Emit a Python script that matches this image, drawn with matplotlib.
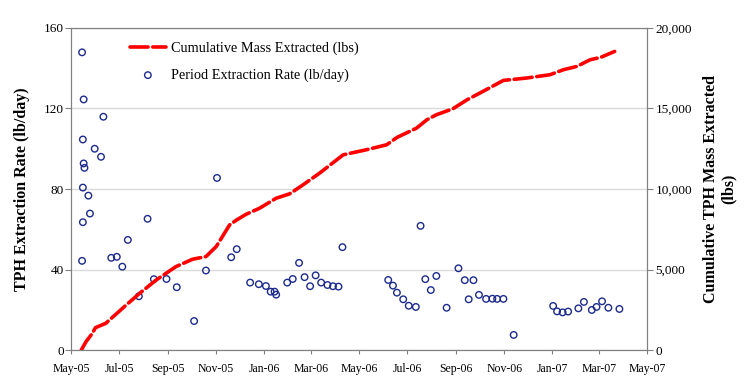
import matplotlib
matplotlib.use('Agg')
import matplotlib.pyplot as plt
import matplotlib.dates as mdates
import numpy as np
import pandas as pd

plt.rcParams['font.family'] = ['Liberation Serif', 'DejaVu Serif']

# period extraction rate (lb/day)
rate_dates = ['2005-05-15', '2005-05-17', '2005-05-16', '2005-05-17', '2005-05-18',
              '2005-05-16', '2005-05-23', '2005-05-25', '2005-05-16', '2005-05-15',
              '2005-05-31', '2005-06-08', '2005-06-11', '2005-06-21', '2005-06-28',
              '2005-07-05', '2005-07-12', '2005-07-26', '2005-08-06', '2005-08-14',
              '2005-08-30', '2005-09-12', '2005-10-04', '2005-10-19', '2005-11-02',
              '2005-11-20', '2005-11-27', '2005-12-14', '2005-12-25', '2006-01-03',
              '2006-01-09', '2006-01-14', '2006-01-16', '2006-01-30', '2006-02-06',
              '2006-02-14', '2006-02-21', '2006-02-28', '2006-03-07', '2006-03-14',
              '2006-03-22', '2006-03-29', '2006-04-05', '2006-04-10', '2006-06-07',
              '2006-06-13', '2006-06-18', '2006-06-26', '2006-07-03', '2006-07-12',
              '2006-07-18', '2006-07-24', '2006-07-31', '2006-08-07', '2006-08-20',
              '2006-09-04', '2006-09-12', '2006-09-17', '2006-09-23', '2006-09-30',
              '2006-10-09', '2006-10-17', '2006-10-23', '2006-10-31', '2006-11-13',
              '2007-01-02', '2007-01-07', '2007-01-14', '2007-01-21', '2007-02-03',
              '2007-02-10', '2007-02-20', '2007-02-26', '2007-03-05', '2007-03-13',
              '2007-03-27']
rate_vals = [147.9, 124.5, 104.6, 92.7, 90.5, 80.7, 76.7, 67.8, 63.5, 44.3,
             100.0, 96.0, 115.9, 45.8, 46.3, 41.4, 54.7, 26.7, 65.2, 35.2,
             35.3, 31.2, 14.4, 39.5, 85.5, 46.1, 50.1, 33.5, 32.7, 31.8,
             29.0, 29.0, 27.5, 33.5, 35.3, 43.3, 36.2, 31.7, 37.1, 33.5,
             32.3, 31.7, 31.5, 51.1, 34.8, 32.0, 28.5, 25.2, 22.0, 21.4,
             61.7, 35.2, 29.8, 36.8, 21.0, 40.6, 34.7, 25.2, 34.7, 27.4,
             25.4, 25.5, 25.4, 25.4, 7.5, 21.9, 19.2, 18.7, 19.1, 20.7,
             23.9, 19.9, 21.4, 24.2, 21.0, 20.4]

# cumulative mass extracted (lbs)
cum_dates = ['2005-05-14', '2005-05-20', '2005-05-28', '2005-06-01', '2005-06-14',
             '2005-07-10', '2005-07-27', '2005-08-17', '2005-09-11', '2005-10-02',
             '2005-10-19', '2005-11-01', '2005-11-18', '2005-11-27', '2005-12-09',
             '2005-12-26', '2006-01-16', '2006-02-02', '2006-02-19', '2006-03-12',
             '2006-04-11', '2006-05-10', '2006-06-05', '2006-06-18', '2006-07-13',
             '2006-07-26', '2006-08-07', '2006-08-28', '2006-09-15', '2006-10-05',
             '2006-10-31', '2006-11-29', '2006-12-29', '2007-01-15', '2007-02-01',
             '2007-02-18', '2007-03-03', '2007-03-21']
cum_vals = [0, 516, 1036, 1389, 1658, 2798, 3523, 4352, 5181, 5637,
            5803, 6424, 7771, 8082, 8434, 8807, 9429, 9698, 10258, 10985,
            12124, 12435, 12746, 13200, 13784, 14300, 14611, 14984, 15543, 16060,
            16744, 16890, 17097, 17408, 17613, 18028, 18171, 18544]

rate_x = pd.to_datetime(rate_dates)
cum_x = pd.to_datetime(cum_dates)

fig = plt.figure(figsize=(7.5, 3.92), dpi=100)
ax = fig.add_axes([0.0947, 0.1071, 0.768, 0.8215])
ax2 = ax.twinx()

spine_col = '#808080'
ax.set_axisbelow(True)
ax.yaxis.grid(True, color='#DADADA', lw=1)

sc = ax.scatter(rate_x, rate_vals, s=22, facecolors='none', edgecolors='#1C2A8C',
                linewidths=1.0, label='Period Extraction Rate (lb/day)', zorder=3)
ln, = ax2.plot(cum_x, cum_vals, color='#FF0000', lw=2.6, ls=(0, (5, 1.3)),
               solid_capstyle='round', dash_capstyle='round',
               label='Cumulative Mass Extracted (lbs)')

ax.set_xlim(pd.Timestamp('2005-05-01'), pd.Timestamp('2007-05-01'))
ax.set_ylim(0, 160)
ax.set_yticks([0, 40, 80, 120, 160])
ax2.set_ylim(0, 20000)
ax2.set_yticks([0, 5000, 10000, 15000, 20000])
ax2.set_yticklabels(['0', '5,000', '10,000', '15,000', '20,000'])

ax.xaxis.set_major_locator(mdates.MonthLocator(bymonth=[1, 3, 5, 7, 9, 11]))
ax.xaxis.set_major_formatter(mdates.DateFormatter('%b-%y'))

for a in (ax, ax2):
    for s in a.spines.values():
        s.set_color(spine_col)
ax.tick_params(axis='y', direction='out', length=4, color=spine_col, labelsize=9.5, pad=1)
ax.tick_params(axis='x', direction='out', length=3, color=spine_col, labelsize=8.5, pad=6)
ax2.tick_params(axis='y', direction='out', length=4, color=spine_col, labelsize=9.5, pad=2)

ax.set_ylabel('TPH Extraction Rate (lb/day)', fontsize=11.5, fontweight='bold', labelpad=10)
ax2.set_ylabel('Cumulative TPH Mass Extracted\n(lbs)', fontsize=11.5, fontweight='bold',
               labelpad=8, linespacing=1.1)

ax.legend([ln, sc], [ln.get_label(), sc.get_label()], loc='upper left',
          bbox_to_anchor=(0.08, 0.998), frameon=False, fontsize=10.3,
          handlelength=2.5, labelspacing=0.95, handletextpad=0.35)

fig.savefig('out.png', dpi=100)
